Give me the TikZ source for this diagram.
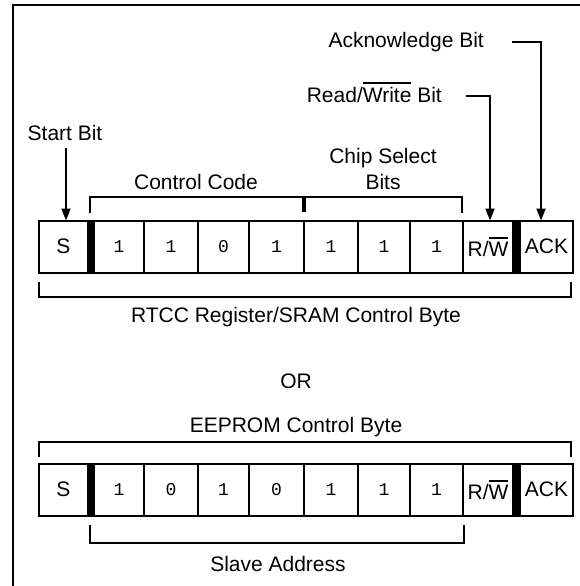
\documentclass[tikz,border=0pt]{standalone}
\usepackage{fontspec}
\setmainfont{Liberation Sans}
\newfontfamily\digitfont{Liberation Mono}
\usetikzlibrary{arrows.meta}
\newcommand\ovl[1]{\leavevmode\vbox{\hrule height 1.8pt\kern 3pt\hbox{#1}}}
\begin{document}
\begin{tikzpicture}[x=1pt,y=-1pt,
  cell/.style={draw, line width=2pt, minimum height=52pt, inner sep=0pt, outer sep=0pt, font=\fontsize{21}{24}\selectfont},
  dcell/.style={cell, font=\digitfont\fontsize{18}{20}\selectfont},
  barcell/.style={fill=black, draw, line width=2pt, minimum width=5pt, minimum height=52pt, inner sep=0pt, outer sep=0pt},
  lab/.style={font=\fontsize{21}{24}\selectfont, inner sep=0pt, anchor=base},
  ln/.style={line width=2pt},
  arr/.style={line width=2pt, -{Triangle[length=12pt,width=9pt]}},
]
\useasboundingbox (0,0) rectangle (580,586);
% frame
\draw[line width=2.3pt] (13,586) -- (13,5.3) -- (580,5.3);

% row 1
\node[cell, minimum width=49pt] (a0) at (63.5,246.5) {S};
\node[barcell] (ab1) at (91,246.5) {};
\node[dcell, minimum width=50pt] (a1) at (119,246.5) {1};
\node[dcell, minimum width=54pt] (a2) at (171,246.5) {1};
\node[dcell, minimum width=51pt] (a3) at (223.5,246.5) {0};
\node[dcell, minimum width=55pt] (a4) at (276.5,246.5) {1};
\node[dcell, minimum width=54pt] (a5) at (331,246.5) {1};
\node[dcell, minimum width=52pt] (a6) at (384,246.5) {1};
\node[dcell, minimum width=53pt] (a7) at (436.5,246.5) {1};
\node[cell, minimum width=50pt] (arw) at (488,246.5) {R/\ovl{W}};
\node[barcell] (ab2) at (516.5,246.5) {};
\node[cell, minimum width=53pt] (aack) at (546.5,246.5) {ACK};

% row 2
\node[cell, minimum width=49pt] (b0) at (63.5,489.5) {S};
\node[barcell] (bb1) at (91,489.5) {};
\node[dcell, minimum width=50pt] (b1) at (119,489.5) {1};
\node[dcell, minimum width=54pt] (b2) at (171,489.5) {0};
\node[dcell, minimum width=51pt] (b3) at (223.5,489.5) {1};
\node[dcell, minimum width=55pt] (b4) at (276.5,489.5) {0};
\node[dcell, minimum width=54pt] (b5) at (331,489.5) {1};
\node[dcell, minimum width=52pt] (b6) at (384,489.5) {1};
\node[dcell, minimum width=53pt] (b7) at (436.5,489.5) {1};
\node[cell, minimum width=50pt] (brw) at (488,489.5) {R/\ovl{W}};
\node[barcell] (bb2) at (516.5,489.5) {};
\node[cell, minimum width=53pt] (back) at (546.5,489.5) {ACK};

% labels
\node[lab] (startl) at (65,140) {Start Bit};
\node[lab, anchor=base east] (ackl) at (484,48) {Acknowledge Bit};
\node[lab, anchor=base east] (rwl) at (442,102) {Read/\ovl{Write} Bit};
\node[lab] (chipl) at (383,163) {Chip Select};
\node[lab] (bitsl) at (383,189) {Bits};
\node[lab] (ccl) at (196,189) {Control Code};
\node[lab] (rtccl) at (296,322) {RTCC Register/SRAM Control Byte};
\node[lab] (orl) at (296,388) {OR};
\node[lab] (eepl) at (296,432) {EEPROM Control Byte};
\node[lab] (slavel) at (278,571) {Slave Address};

% connectors
\coordinate (startfrom) at (66,148);
\draw[arr] (startfrom) -- (startfrom |- a0.north);
\coordinate (ackfrom) at (512,42);
\coordinate (ackcorner) at (541,42);
\draw[arr] (ackfrom) -- (ackcorner) -- (ackcorner |- aack.north);
\coordinate (rwfrom) at (466,96);
\coordinate (rwcorner) at (490,96);
\draw[arr] (rwfrom) -- (rwcorner) -- (rwcorner |- arw.north);

% brackets
\draw[ln] (90,213) -- (90,197) -- (462,197) -- (462,213);
\draw[line width=4pt] (304,197) -- (304,212);
\draw[ln] (39,282) -- (39,297) -- (571,297) -- (571,282);
\draw[ln] (39,457) -- (39,442) -- (571,442) -- (571,457);
\draw[ln] (90,525) -- (90,543) -- (464,543) -- (464,525);
\end{tikzpicture}
\end{document}
